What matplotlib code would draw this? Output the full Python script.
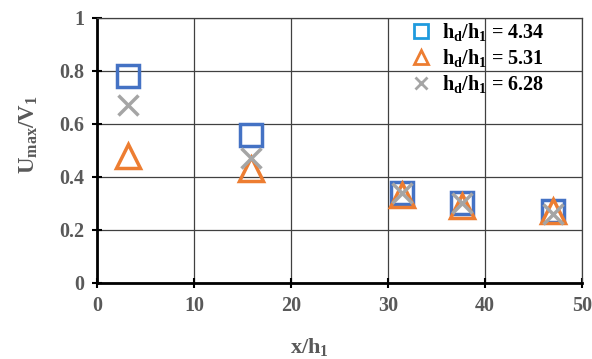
import matplotlib
matplotlib.use("Agg")
import matplotlib.pyplot as plt

plt.rcParams['font.family'] = ['Liberation Serif', 'DejaVu Serif']
plt.rcParams['mathtext.fontset'] = 'custom'
plt.rcParams['mathtext.rm'] = 'Liberation Serif'
plt.rcParams['mathtext.bf'] = 'Liberation Serif:bold'
plt.rcParams['mathtext.it'] = 'Liberation Serif:italic'

x_vals = [3.2, 15.9, 31.4, 37.6, 47.0]
s434 = [0.78, 0.56, 0.34, 0.30, 0.27]
s531 = [0.48, 0.43, 0.33, 0.29, 0.27]
s628 = [0.67, 0.47, 0.34, 0.30, 0.26]
labels = [r'$\mathbf{h_d/h_1}$ = 4.34', r'$\mathbf{h_d/h_1}$ = 5.31', r'$\mathbf{h_d/h_1}$ = 6.28']
xticks = [0, 10, 20, 30, 40, 50]
yticks = [0, 0.2, 0.4, 0.6, 0.8, 1]
yticklabels = ['0', '0.2', '0.4', '0.6', '0.8', '1']

fig = plt.figure(figsize=(5.92, 3.59), dpi=100)
ax = fig.add_axes([0.164, 0.212, 0.819, 0.738])

ax.plot(x_vals, s434, linestyle='none', marker='s', markersize=16.5, markerfacecolor='none',
        markeredgecolor='#4472C4', markeredgewidth=2.5, label=labels[0], zorder=3)
ax.plot(x_vals, s531, linestyle='none', marker='^', markersize=17.5, markerfacecolor='none',
        markeredgecolor='#ED7D31', markeredgewidth=2.5, label=labels[1], zorder=3)
ax.plot(x_vals, s628, linestyle='none', marker='x', markersize=15, markerfacecolor='none',
        markeredgecolor='#A5A5A5', markeredgewidth=2.5, label=labels[2], zorder=3)

ax.set_xlim(0, 50)
ax.set_ylim(0, 1)
ax.set_xticks(xticks)
ax.set_yticks(yticks)
ax.set_yticklabels(yticklabels)
ax.grid(True, color='#404040', linewidth=0.9)
ax.set_axisbelow(True)
for s in ['top', 'right']:
    ax.spines[s].set_color('#404040')
    ax.spines[s].set_linewidth(0.9)
for s in ['left', 'bottom']:
    ax.spines[s].set_linewidth(2)
    ax.spines[s].set_color('black')
ax.tick_params(direction='inout', length=7, width=1.5, colors='black',
               labelcolor='#595959', labelsize=14.5, pad=6)
ax.tick_params(top=False, right=False)
for lab in ax.get_xticklabels() + ax.get_yticklabels():
    lab.set_fontweight('bold')

ax.set_xlabel(r'$\mathbf{x/h_1}$', fontsize=16, color='#595959')
ax.xaxis.set_label_coords(0.437, -0.2)
ax.set_ylabel(r'$\mathbf{U_{max}/V_1}$', fontsize=16.5, color='#595959')
ax.yaxis.set_label_coords(-0.117, 0.56)

leg = ax.legend(loc='upper left', bbox_to_anchor=(0.615, 1.04), frameon=False,
                prop={'weight': 'bold', 'size': 14.5}, handletextpad=0.4,
                handlelength=1.2, labelspacing=0.18, borderpad=0.2,
                markerscale=0.6)
leg.legend_handles[0].set_markeredgecolor('#1F9BDE')
for h in leg.legend_handles:
    h.set_markeredgewidth(2)

fig.savefig('out.png', dpi=100)
